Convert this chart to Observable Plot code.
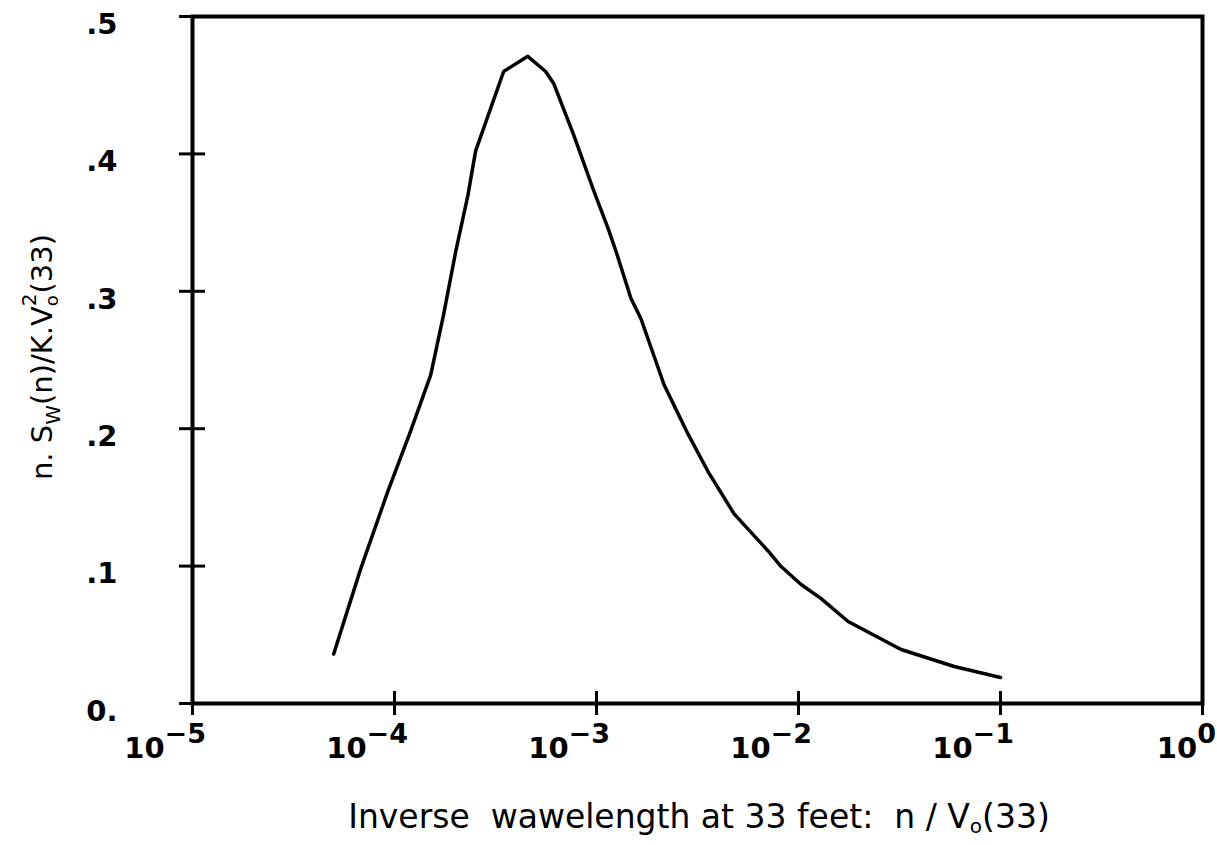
<!DOCTYPE html>
<html>
<head>
<meta charset="utf-8">
<script src="https://cdn.jsdelivr.net/npm/d3@7"></script>
<script src="https://cdn.jsdelivr.net/npm/@observablehq/plot@0.6"></script>
<style>
  html, body { margin: 0; padding: 0; background: #fff; }
  svg text { white-space: pre; }
</style>
</head>
<body>
<div id="chart"></div>
<script>
// Inverse wavelength n/V0(33) (x) and normalized spectrum n.Sw(n)/K.V0^2(33) (y)
const xVals = [5.0e-5, 6.8e-5, 9.25e-5, 1.2e-4, 1.51e-4, 1.75e-4, 2.01e-4, 2.31e-4, 2.52e-4, 3.47e-4, 4.57e-4, 5.6e-4, 6.15e-4, 7.7e-4, 9.7e-4, 1.14e-3, 1.25e-3, 1.48e-3, 1.66e-3, 2.16e-3, 2.84e-3, 3.56e-3, 4.8e-3, 7.07e-3, 8.2e-3, 1.03e-2, 1.29e-2, 1.76e-2, 3.22e-2, 5.9e-2, 0.1];
const yVals = [0.036, 0.098, 0.154, 0.198, 0.239, 0.283, 0.329, 0.370, 0.402, 0.460, 0.471, 0.460, 0.451, 0.414, 0.373, 0.346, 0.329, 0.295, 0.280, 0.232, 0.196, 0.169, 0.138, 0.111, 0.0997, 0.0866, 0.0765, 0.0597, 0.0393, 0.0269, 0.0189];

const xTicks = [1e-5, 1e-4, 1e-3, 1e-2, 1e-1, 1];
const xTickBase = ["10", "10", "10", "10", "10", "10"];
const xTickExp = ["\u22125", "\u22124", "\u22123", "\u22122", "\u22121", "0"];
const yTicks = [0, 0.1, 0.2, 0.3, 0.4, 0.5];
const yTickLabels = ["0.", ".1", ".2", ".3", ".4", ".5"];

const xTitle = "Inverse  wawelength at 33 feet:  n / V";
const xTitleSub = "o";
const xTitleEnd = "(33)";

const data = xVals.map((x, i) => ({x, y: yVals[i]}));

const W = 1217, H = 845, ML = 192, MR = 15, MT = 16, MB = 142;
const plotW = W - ML - MR, plotH = H - MT - MB;

const chart = Plot.plot({
  width: W,
  height: H,
  marginLeft: ML,
  marginRight: MR,
  marginTop: MT,
  marginBottom: MB,
  style: {background: "white", color: "black", fontFamily: "DejaVu Sans"},
  x: {type: "log", domain: [1e-5, 1], label: null, axis: null},
  y: {domain: [0, 0.5], label: null, axis: null},
  marks: [
    // crossing tick marks on both axes
    Plot.ruleX(xTicks, {x: d => d, insetTop: plotH - 12, insetBottom: -12, stroke: "black", strokeWidth: 3}),
    Plot.ruleY(yTicks, {y: d => d, insetLeft: -13, insetRight: plotW - 13, stroke: "black", strokeWidth: 3}),
    Plot.axisY(yTicks, {tickSize: 0, tickPadding: 75, tickFormat: d => yTickLabels[yTicks.indexOf(d)], fontSize: 29, fontWeight: "bold", dy: 8, label: null}),
    Plot.frame({stroke: "black", strokeWidth: 4}),
    Plot.line(data, {x: "x", y: "y", stroke: "black", strokeWidth: 3.5, strokeLinejoin: "round", strokeLinecap: "round"})
  ]
});

document.getElementById("chart").appendChild(chart);

const svg = d3.select(chart);
const sx = chart.scale("x");

// x tick labels: 10 with superscript exponent, placed with Plot's x scale
const xl = svg.append("g").attr("aria-label", "x tick labels")
  .attr("font-family", "DejaVu Sans").attr("font-weight", "bold").attr("fill", "black");
xTicks.forEach((t, i) => {
  const txt = xl.append("text")
    .attr("x", sx.apply(t) + 14)
    .attr("y", 758)
    .attr("text-anchor", "end")
    .attr("font-size", 29);
  txt.append("tspan").text(xTickBase[i]);
  txt.append("tspan").attr("dy", -15).attr("font-size", 27).text(xTickExp[i]);
});

// y-axis title
const yt = svg.append("text")
  .attr("transform", "translate(52,357) rotate(-90)")
  .attr("text-anchor", "middle")
  .attr("font-family", "DejaVu Sans")
  .attr("font-size", 29)
  .attr("fill", "black");
yt.append("tspan").text("n. S");
yt.append("tspan").attr("dy", 8).attr("font-size", 20).text("W");
yt.append("tspan").attr("dy", -8).text("(n)/K.V");
yt.append("tspan").attr("dy", 6).attr("font-size", 18).text("o");
yt.append("tspan").attr("dx", -11).attr("dy", -22).attr("font-size", 20).text("2");
yt.append("tspan").attr("dy", 16).text("(33)");

// x-axis title
const xt = svg.append("text")
  .attr("x", 699)
  .attr("y", 828)
  .attr("text-anchor", "middle")
  .attr("font-family", "DejaVu Sans")
  .attr("font-size", 33)
  .attr("fill", "black");
xt.append("tspan").text(xTitle);
xt.append("tspan").attr("dy", 5).attr("font-size", 20).text(xTitleSub);
xt.append("tspan").attr("dy", -5).text(xTitleEnd);
</script>
</body>
</html>
